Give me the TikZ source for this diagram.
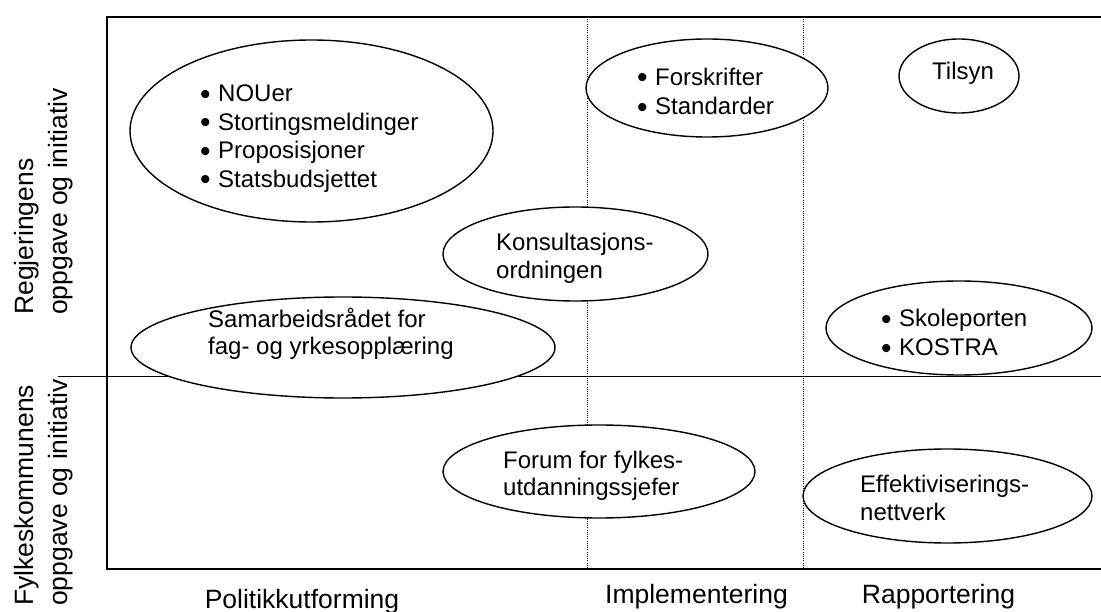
\documentclass[tikz,border=0pt]{standalone}
\usepackage{fontspec}
\setmainfont{Liberation Sans}
\usetikzlibrary{shapes.geometric}

% bullet with a fixed hanging indent
\newcommand\bul{\makebox[18pt][l]{\raisebox{-2.5pt}{\fontsize{30}{30}\selectfont\textbullet}}}

\begin{document}
\begin{tikzpicture}[x=1pt,y=-1pt,
  frame/.style={line width=1.6pt},
  dotline/.style={line width=0.9pt, dash pattern=on 1pt off 1.2pt},
  oval/.style={ellipse, draw, fill=white, line width=1.4pt, inner sep=0pt, outer sep=0pt},
  txt/.style={inner sep=0pt, anchor=base west, font=\fontsize{24}{28}\selectfont},
  axis/.style={inner sep=0pt, font=\fontsize{26.5}{30}\selectfont},
]
\useasboundingbox (0,0) rectangle (1101,612);

% quadrant frame and column separators
\draw[frame] (1101,17) -- (107,17) -- (107,569) -- (1101,569);
\draw[frame] (58,376.5) -- (1101,376.5);
\draw[dotline] (587,17) -- (587,569);
\draw[dotline] (803,17) -- (803,569);

% ovals
\node[oval, minimum width=363pt, minimum height=182pt] (nou) at (311.5,131) {};
\node[oval, minimum width=424pt, minimum height=101pt] (samr) at (343,347.5) {};
\node[oval, minimum width=265pt, minimum height=94pt] (kons) at (575.5,254) {};
\node[oval, minimum width=242pt, minimum height=98pt] (forsk) at (707,88) {};
\node[oval, minimum width=120pt, minimum height=74pt] (tils) at (959,76) {};
\node[oval, minimum width=266pt, minimum height=94pt] (skole) at (959,328) {};
\node[oval, minimum width=312pt, minimum height=93pt] (forum) at (599,471.5) {};
\node[oval, minimum width=289pt, minimum height=94pt] (effekt) at (947.5,496) {};

% oval texts
\node[txt] (nou1) at (200,102) {\bul NOUer};
\node[txt] (nou2) at (200,130.5) {\bul Stortingsmeldinger};
\node[txt] (nou3) at (200,159) {\bul Proposisjoner};
\node[txt] (nou4) at (200,187.5) {\bul Statsbudsjettet};

\node[txt] (kons1) at (496,250.5) {Konsultasjons-};
\node[txt] (kons2) at (496,278.5) {ordningen};

\node[txt] (samr1) at (208,328) {Samarbeidsrådet for};
\node[txt] (samr2) at (208,355) {fag- og yrkesopplæring};

\node[txt] (forsk1) at (637,85.5) {\bul Forskrifter};
\node[txt] (forsk2) at (637,115) {\bul Standarder};

\node[txt] (tils1) at (932,80) {Tilsyn};

\node[txt] (skole1) at (881,327) {\bul Skoleporten};
\node[txt] (skole2) at (881,356) {\bul KOSTRA};

\node[txt] (forum1) at (503,468) {Forum for fylkes-};
\node[txt] (forum2) at (503,495.5) {utdanningssjefer};

\node[txt] (effekt1) at (860,492) {Effektiviserings-};
\node[txt] (effekt2) at (860,520) {nettverk};

% row labels
\node[axis, rotate=90, anchor=base west] (reg1) at (33,315) {Regjeringens};
\node[axis, rotate=90, anchor=base west] (reg2) at (67,315) {oppgave og initiativ};
\node[axis, rotate=90, anchor=base west] (fyl1) at (33,606) {Fylkeskommunens};
\node[axis, rotate=90, anchor=base west] (fyl2) at (67,606) {oppgave og initiativ};

% column labels
\node[axis, anchor=base] (col1) at (302,608) {Politikkutforming};
\node[axis, anchor=base] (col2) at (696.5,603) {Implementering};
\node[axis, anchor=base] (col3) at (938.5,603) {Rapportering};
\end{tikzpicture}
\end{document}
